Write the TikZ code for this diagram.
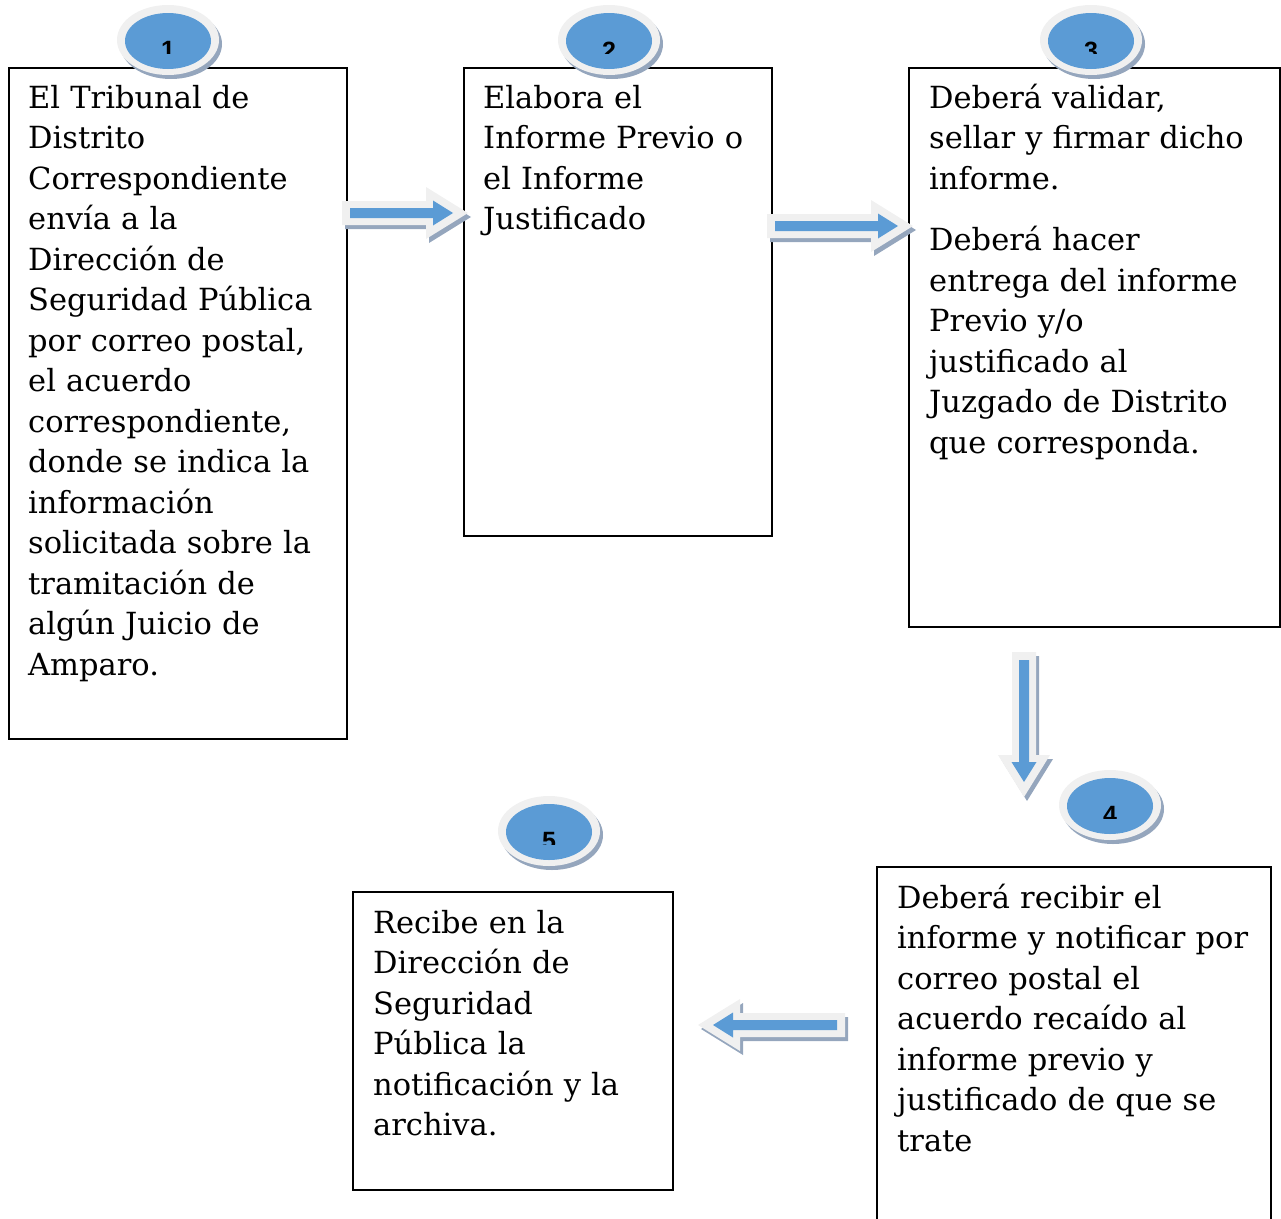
\documentclass[tikz,border=0pt]{standalone}
\usepackage{fontspec}
\setmainfont{DejaVu Serif}
\newfontfamily\badgefont{Liberation Sans}
\usetikzlibrary{calc}

\definecolor{corecolor}{HTML}{5B9BD5}
\definecolor{rimcolor}{HTML}{F0F0F0}
\definecolor{shadecolor}{HTML}{95A6BD}

\tikzset{
  stepbox/.style={draw=black, line width=2pt, inner sep=0pt, anchor=north west},
  steptext/.style={anchor=base west, inner sep=0pt, text width=400pt, align=left,
    font=\fontsize{30.5pt}{40.5pt}\selectfont},
  badgedigit/.style={anchor=north, inner sep=0pt, font=\badgefont\bfseries\fontsize{25pt}{25pt}\selectfont},
}

% block arrow pointing along +x, tail at the origin, tip at (#1,0)
\newcommand\arrowrim[1]{(0,12) -- (#1-42,12) -- (#1-42,26) -- (#1,0) -- (#1-42,-26) -- (#1-42,-12) -- (0,-12) -- cycle}
\newcommand\arrowcore[1]{(8,5) -- (#1-35,5) -- (#1-35,12.5) -- (#1-15,0) -- (#1-35,-12.5) -- (#1-35,-5) -- (8,-5) -- cycle}
% #1 tail point, #2 rotation, #3 length
\newcommand\flowarrow[3]{%
  \begin{scope}[shift={#1}, xshift=3pt, yshift=-4pt]
    \fill[shadecolor, rotate=#2] \arrowrim{#3};
  \end{scope}
  \begin{scope}[shift={#1}, rotate=#2]
    \fill[rimcolor] \arrowrim{#3};
    \fill[corecolor] \arrowcore{#3};
  \end{scope}}

% numbered badge: #1 name, #2 centre, #3 digit
\newcommand\stepbadge[3]{%
  \coordinate (#1) at #2;
  \fill[shadecolor] ($(#1)+(3,4)$) ellipse (51 and 35);
  \fill[rimcolor] (#1) ellipse (51 and 35);
  \fill[corecolor] ($(#1)+(0,1)$) ellipse (43 and 28);
  \begin{scope}
    \clip ($(#1)+(-20,-5)$) rectangle ($(#1)+(20,13.5)$);
    \node[badgedigit] at ($(#1)+(0,1.5)$) {#3};
  \end{scope}}

\begin{document}
\begin{tikzpicture}[x=1pt, y=-1pt]
\useasboundingbox (0,0) rectangle (1281,1218);
\clip (0,0) rectangle (1281,1218);

% boxes
\node[stepbox, minimum width=338pt, minimum height=671pt] (b1) at (7.5,66.5) {};
\node[stepbox, minimum width=308pt, minimum height=468pt] (b2) at (462.5,66.5) {};
\node[stepbox, minimum width=371pt, minimum height=559pt] (b3) at (907.5,66.5) {};
\node[stepbox, minimum width=394pt, minimum height=370pt] (b4) at (875.5,865.5) {};
\node[stepbox, minimum width=320pt, minimum height=298pt] (b5) at (351.5,890.5) {};

% texts
\node[steptext] (t1) at (28,108) {El Tribunal de\\Distrito\\Correspondiente\\env\'ia a la\\Direcci\'on de\\Seguridad P\'ublica\\por correo postal,\\el acuerdo\\correspondiente,\\donde se indica la\\informaci\'on\\solicitada sobre la\\tramitaci\'on de\\alg\'un Juicio de\\Amparo.};
\node[steptext] (t2) at (483,108) {Elabora el\\Informe Previo o\\el Informe\\Justificado};
\node[steptext] (t3) at (929,108) {Deber\'a validar,\\sellar y firmar dicho\\informe.\\[21pt]Deber\'a hacer\\entrega del informe\\Previo y/o\\justificado al\\Juzgado de Distrito\\que corresponda.};
\node[steptext] (t4) at (897,908) {Deber\'a recibir el\\informe y notificar por\\correo postal el\\acuerdo reca\'ido al\\informe previo y\\justificado de que se\\trate};
\node[steptext] (t5) at (373,933) {Recibe en la\\Direcci\'on de\\Seguridad\\P\'ublica la\\notificaci\'on y la\\archiva.};

% arrows between steps
\flowarrow{(342,213)}{0}{126}
\flowarrow{(767,226)}{0}{146}
\flowarrow{(1024,652)}{-90}{145}
\flowarrow{(845,1025)}{180}{147}

% step numbers
\stepbadge{n1}{(168,40)}{1}
\stepbadge{n2}{(609,40)}{2}
\stepbadge{n3}{(1091,40)}{3}
\stepbadge{n4}{(1110,805)}{4}
\stepbadge{n5}{(549,831)}{5}
\end{tikzpicture}
\end{document}
